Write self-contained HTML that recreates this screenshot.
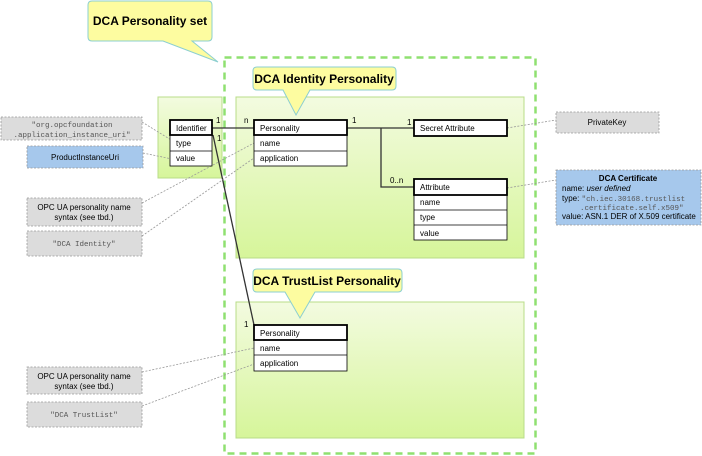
<!DOCTYPE html>
<html><head><meta charset="utf-8"><style>
html,body{margin:0;padding:0;background:#fff}
svg{display:block}
text{font-family:"Liberation Sans",Arial,sans-serif;font-size:8px;fill:#000}
.m{font-family:"Liberation Mono",monospace;fill:#555;font-size:7.5px}
.t{font-weight:bold;font-size:12px}
</style></head><body>
<svg width="702" height="456" viewBox="0 0 702 456" xmlns="http://www.w3.org/2000/svg">
<defs>
<linearGradient id="g" x1="0" y1="0" x2="0" y2="1">
<stop offset="0" stop-color="#f3fbe0"/><stop offset="1" stop-color="#d6f59a"/></linearGradient>
</defs>
<rect x="158" y="97" width="64" height="81" fill="url(#g)" stroke="#b8dc88" stroke-width="1"/>
<rect x="236" y="97" width="288" height="161" fill="url(#g)" stroke="#b8dc88" stroke-width="1"/>
<rect x="236" y="302" width="288" height="136" fill="url(#g)" stroke="#b8dc88" stroke-width="1"/>
<rect x="224.5" y="57.5" width="311" height="396" fill="none" stroke="#8fe070" stroke-width="2.5" stroke-dasharray="7,5"/>

<path d="M92,1 H208 Q212,1 212,5 V37 Q212,41 208,41 H192 L218,62 L163,41 H92 Q88,41 88,37 V5 Q88,1 92,1 Z" fill="#fdfca0" stroke="#8ccfd0" stroke-width="1"/>
<text x="150" y="25" class="t" text-anchor="middle">DCA Personality set</text>
<path d="M257,67 H392 Q396,67 396,71 V86 Q396,90 392,90 H310 L296,115 L283,90 H257 Q253,90 253,86 V71 Q253,67 257,67 Z" fill="#fdfca0" stroke="#8ccfd0" stroke-width="1"/>
<text x="324" y="83" class="t" text-anchor="middle">DCA Identity Personality</text>
<path d="M257,269 H398 Q402,269 402,273 V288 Q402,292 398,292 H315 L300,318 L285,292 H257 Q253,292 253,288 V273 Q253,269 257,269 Z" fill="#fdfca0" stroke="#8ccfd0" stroke-width="1"/>
<text x="327" y="285" class="t" text-anchor="middle">DCA TrustList Personality</text>

<g stroke="#333" stroke-width="1.3" fill="none">
<line x1="212" y1="128" x2="254" y2="128"/>
<line x1="213" y1="135" x2="254" y2="325"/>
<line x1="347" y1="128" x2="414" y2="128"/>
<polyline points="381,128 381,187 414,187"/>
</g>
<text x="216" y="123">1</text><text x="217" y="141">1</text>
<text x="244" y="123">n</text>
<text x="352" y="123">1</text><text x="407" y="125">1</text>
<text x="390" y="183">0..n</text>
<text x="244" y="327">1</text>

<g stroke="#999" stroke-width="0.8" stroke-dasharray="2,1.5" fill="none">
<line x1="142" y1="122" x2="176" y2="143"/>
<line x1="143" y1="153" x2="172" y2="159"/>
<line x1="142" y1="203" x2="254" y2="143"/>
<line x1="142" y1="236" x2="254" y2="158"/>
<line x1="507" y1="128" x2="556" y2="120"/>
<line x1="507" y1="188" x2="556" y2="180"/>
<line x1="142" y1="372" x2="254" y2="348"/>
<line x1="142" y1="406" x2="254" y2="364"/>
</g>

<g stroke="#999" stroke-width="0.8" stroke-dasharray="2,1.5">
<rect x="1" y="117" width="141" height="23" fill="#dcdcdc"/>
<rect x="27" y="146" width="116" height="22" fill="#a6c8ec"/>
<rect x="27" y="198" width="115" height="28" fill="#dcdcdc"/>
<rect x="27" y="231" width="115" height="25" fill="#dcdcdc"/>
<rect x="556" y="112" width="103" height="21" fill="#dcdcdc"/>
<rect x="556" y="170" width="145" height="55" fill="#a6c8ec"/>
<rect x="27" y="367" width="115" height="27" fill="#dcdcdc"/>
<rect x="27" y="402" width="115" height="25" fill="#dcdcdc"/>
</g>
<text x="72" y="127" class="m" text-anchor="middle">"org.opcfoundation</text>
<text x="72" y="137" class="m" text-anchor="middle">.application_instance_uri"</text>
<text x="85" y="160" text-anchor="middle">ProductInstanceUri</text>
<text x="84" y="210" text-anchor="middle">OPC UA personality name</text>
<text x="84" y="220" text-anchor="middle">syntax (see tbd.)</text>
<text x="84" y="246" class="m" text-anchor="middle">"DCA Identity"</text>
<text x="607" y="125" text-anchor="middle">PrivateKey</text>
<text x="628" y="181" text-anchor="middle" font-weight="bold">DCA Certificate</text>
<text x="562" y="191">name: <tspan font-style="italic">user defined</tspan></text>
<text x="562" y="201">type: <tspan class="m">"ch.iec.30168.trustlist</tspan></text>
<text x="580" y="210" class="m">.certificate.self.x509"</text>
<text x="562" y="219">value:  ASN.1 DER of X.509 certificate</text>
<text x="84" y="379" text-anchor="middle">OPC UA personality name</text>
<text x="84" y="389" text-anchor="middle">syntax (see tbd.)</text>
<text x="84" y="417" class="m" text-anchor="middle">"DCA TrustList"</text>

<g fill="#fff" stroke="#000">
<rect x="170" y="135" width="42" height="31" stroke-width="0.8"/>
<line x1="170" y1="151" x2="212" y2="151" stroke-width="0.8"/>
<rect x="170" y="120" width="42" height="15" stroke-width="1.8"/>
<rect x="254" y="135" width="93" height="31" stroke-width="0.8"/>
<line x1="254" y1="151" x2="347" y2="151" stroke-width="0.8"/>
<rect x="254" y="120" width="93" height="15" stroke-width="1.8"/>
<rect x="414" y="120" width="93" height="16" stroke-width="1.8"/>
<rect x="414" y="195" width="93" height="45" stroke-width="0.8"/>
<line x1="414" y1="210" x2="507" y2="210" stroke-width="0.8"/>
<line x1="414" y1="225" x2="507" y2="225" stroke-width="0.8"/>
<rect x="414" y="179" width="93" height="16" stroke-width="1.8"/>
<rect x="254" y="340" width="93" height="31" stroke-width="0.8"/>
<line x1="254" y1="355" x2="347" y2="355" stroke-width="0.8"/>
<rect x="254" y="325" width="93" height="15" stroke-width="1.8"/>
</g>
<text x="176" y="131">Identifier</text>
<text x="176" y="146">type</text>
<text x="176" y="161">value</text>
<text x="260" y="131">Personality</text>
<text x="260" y="146">name</text>
<text x="260" y="161">application</text>
<text x="420" y="131">Secret Attribute</text>
<text x="420" y="190">Attribute</text>
<text x="420" y="205">name</text>
<text x="420" y="220">type</text>
<text x="420" y="236">value</text>
<text x="260" y="336">Personality</text>
<text x="260" y="351">name</text>
<text x="260" y="366">application</text>
</svg>
</body></html>
